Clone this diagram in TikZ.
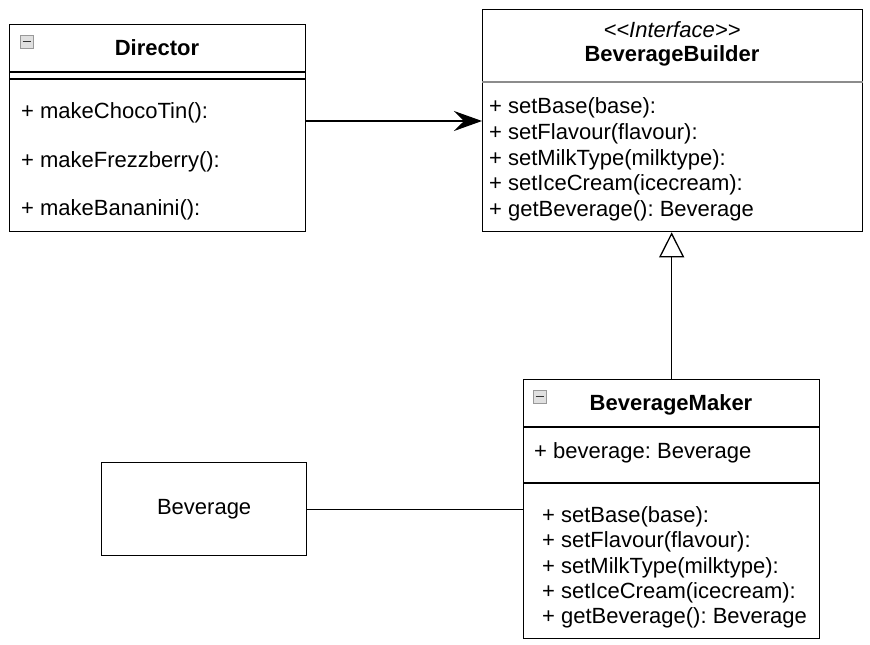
\documentclass[tikz,border=0pt]{standalone}
\usepackage{fontspec}
\setmainfont{Liberation Sans}
\usetikzlibrary{arrows.meta}
\frenchspacing
\begin{document}
\begin{tikzpicture}[x=1pt,y=-1pt,
  box/.style={draw=black, line width=1.3pt, fill=white, inner sep=0pt, anchor=north west},
  txt/.style={inner sep=0pt, anchor=west, font=\fontsize{22}{26}\selectfont},
  ttl/.style={inner sep=0pt, font=\fontsize{22}{26}\selectfont\bfseries},
  ital/.style={inner sep=0pt, font=\fontsize{22}{26}\selectfont\itshape},
  sepline/.style={line width=1.3pt, draw=black},
  graysep/.style={line width=1.3pt, draw=black!45},
  icon/.style={draw=black!40, fill=black!12, line width=0.8pt},
  assoc/.style={line width=1.3pt, -{Stealth[length=28pt, width=20pt, inset=10pt]}},
  realize/.style={line width=1.3pt, -{Triangle[open, length=25pt, width=25pt, fill=white]}},
  plain/.style={line width=1.3pt}
]
\useasboundingbox (0,0) rectangle (870,645);
\fill[white] (0,0) rectangle (870,645);

% Director
\node[box, minimum width=296pt, minimum height=207pt] (dir) at (9,24) {};
\draw[sepline] (dir.west |- 0,72) -- (dir.east |- 0,72);
\draw[sepline] (dir.west |- 0,79) -- (dir.east |- 0,79);
\draw[icon] (20,35) rectangle (33,48);
\draw[line width=1.8pt, black!80] (22.5,41.5) -- (30.5,41.5);
\node[ttl] (dirt) at (157,48) {Director};
\node[txt] (d1) at (21,113) {+ makeChocoTin():};
\node[txt] (d2) at (21,162) {+ makeFrezzberry():};
\node[txt] (d3) at (21,210) {+ makeBananini():};

% BeverageBuilder
\node[box, minimum width=380pt, minimum height=222pt] (bb) at (482,9) {};
\draw[graysep] (bb.west |- 0,82) -- (bb.east |- 0,82);
\node[ital] (bbs) at (672,30) {<\kern0pt<Interface>\kern0pt>};
\node[ttl] (bbt) at (672,56) {BeverageBuilder};
\node[txt] (b1) at (489,108) {+ setBase(base):};
\node[txt] (b2) at (489,133.5) {+ setFlavour(flavour):};
\node[txt] (b3) at (489,159.5) {+ setMilkType(milktype):};
\node[txt] (b4) at (489,185) {+ setIceCream(icecream):};
\node[txt] (b5) at (489,211) {+ getBeverage(): Beverage};

% BeverageMaker
\node[box, minimum width=296pt, minimum height=259pt] (bm) at (523,379) {};
\draw[sepline] (bm.west |- 0,427) -- (bm.east |- 0,427);
\draw[sepline] (bm.west |- 0,483) -- (bm.east |- 0,483);
\draw[icon] (533,390) rectangle (546,403);
\draw[line width=1.8pt, black!80] (535.5,396.5) -- (543.5,396.5);
\node[ttl] (bmt) at (671,405) {BeverageMaker};
\node[txt] (ba) at (534,453) {+ beverage: Beverage};
\node[txt] (m1) at (542,517) {+ setBase(base):};
\node[txt] (m2) at (542,542) {+ setFlavour(flavour):};
\node[txt] (m3) at (542,568) {+ setMilkType(milktype):};
\node[txt] (m4) at (542,593) {+ setIceCream(icecream):};
\node[txt] (m5) at (542,618) {+ getBeverage(): Beverage};

% Beverage
\node[box, minimum width=205pt, minimum height=93pt] (bev) at (101,462) {};
\node[inner sep=0pt, font=\fontsize{22}{26}\selectfont] (bevt) at (bev.center) {Beverage};

% connectors
\coordinate (ay) at (0,121);
\draw[assoc] (dir.east |- ay) -- (bb.west |- ay);
\draw[realize] (bm.north) -- (bm.north |- bb.south);
\draw[plain] (bev.east) -- (bm.west |- bev.east);
\end{tikzpicture}
\end{document}
